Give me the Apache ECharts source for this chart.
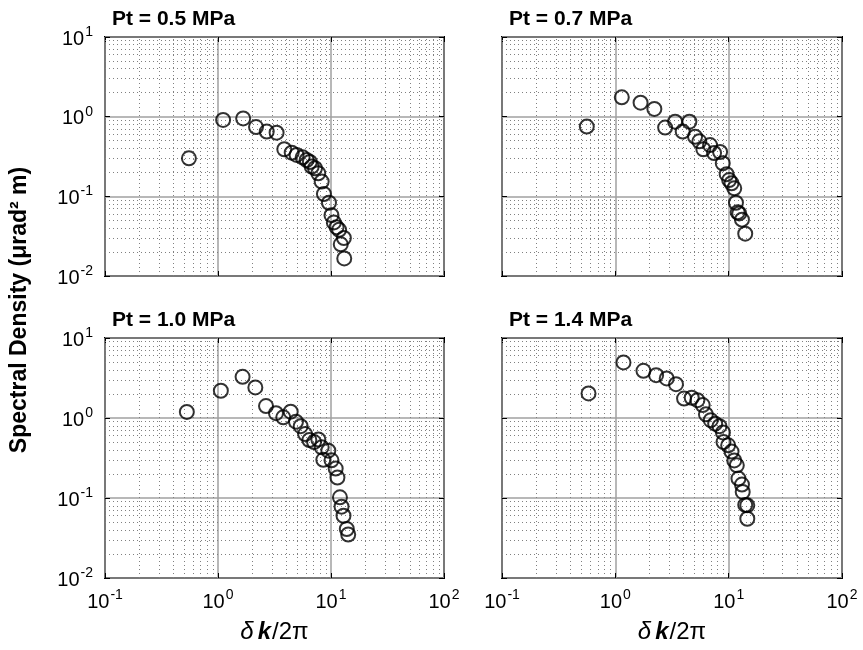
<!DOCTYPE html>
<html>
<head>
<meta charset="utf-8">
<script src="https://cdn.jsdelivr.net/npm/echarts@6/dist/echarts.min.js"></script>
<style>
  html, body { margin: 0; padding: 0; background: #fff; }
  #chart { width: 863px; height: 650px; }
</style>
</head>
<body>
<div id="chart"></div>
<script>
// Panel titles (transmission pressure)
const panelTitles = ['Pt = 0.5 MPa', 'Pt = 0.7 MPa', 'Pt = 1.0 MPa', 'Pt = 1.4 MPa'];

// Decade exponents shown as tick labels
const xTickExponents = [-1, 0, 1, 2];
const yTickExponents = [-2, -1, 0, 1];

// Normalised wavenumber (δk/2π) and spectral density (µrad² m), Pt = 0.5 MPa
const k05 = [0.553, 1.11, 1.67, 2.17, 2.70, 3.30, 3.86, 4.49, 4.96, 5.61, 6.09, 6.5, 6.75, 7.22, 7.72, 8.27, 8.66, 9.6, 10.1, 10.6, 11.2, 11.8, 13.0, 12.2, 13.1];
const s05 = [0.30, 0.91, 0.95, 0.74, 0.65, 0.63, 0.39, 0.353, 0.331, 0.309, 0.286, 0.27, 0.236, 0.225, 0.195, 0.153, 0.107, 0.083, 0.058, 0.047, 0.041, 0.038, 0.030, 0.025, 0.0166];

// Pt = 0.7 MPa
const k07 = [0.56, 1.14, 1.67, 2.21, 2.75, 3.37, 4.5, 3.93, 5.05, 5.51, 5.98, 6.85, 7.43, 8.4, 8.87, 9.6, 10.1, 10.6, 11.2, 11.6, 12.0, 12.4, 13.1, 14.0];
const s07 = [0.75, 1.75, 1.50, 1.25, 0.73, 0.865, 0.865, 0.65, 0.56, 0.49, 0.39, 0.44, 0.35, 0.36, 0.26, 0.19, 0.16, 0.146, 0.126, 0.083, 0.063, 0.061, 0.051, 0.034];

// Pt = 1.0 MPa
const k10 = [0.53, 1.06, 1.65, 2.14, 2.66, 3.26, 3.78, 4.40, 4.9, 5.39, 5.9, 6.43, 7.08, 7.73, 8.27, 8.55, 9.47, 10.1, 11.0, 11.4, 12.0, 12.4, 12.9, 13.8, 14.2];
const s10 = [1.19, 2.19, 3.27, 2.41, 1.41, 1.15, 1.02, 1.2, 0.90, 0.79, 0.63, 0.53, 0.50, 0.54, 0.43, 0.30, 0.39, 0.296, 0.233, 0.18, 0.102, 0.078, 0.06, 0.041, 0.035];

// Pt = 1.4 MPa
const k14 = [0.58, 1.18, 1.77, 2.29, 2.84, 3.43, 4.04, 4.72, 5.3, 5.9, 6.3, 6.95, 7.6, 8.3, 8.9, 9.0, 9.9, 10.6, 11.2, 11.8, 12.2, 13.1, 13.3, 14.0, 14.6, 14.6];
const s14 = [2.03, 4.95, 3.89, 3.43, 3.12, 2.65, 1.75, 1.79, 1.67, 1.45, 1.11, 0.94, 0.85, 0.79, 0.66, 0.5, 0.455, 0.38, 0.295, 0.256, 0.175, 0.147, 0.119, 0.082, 0.081, 0.055];

const panelK = [k05, k07, k10, k14];
const panelS = [s05, s07, s10, s14];

const FONT = 'Liberation Sans, Arial, sans-serif';
const X_MIN = 0.1, X_MAX = 100, Y_MIN = 0.01, Y_MAX = 10;

// Panel rectangles in pixels
const grids = [
  { left: 105, top: 37, width: 339, height: 239 },
  { left: 502, top: 37, width: 340, height: 239 },
  { left: 105, top: 338, width: 339, height: 240 },
  { left: 502, top: 338, width: 340, height: 240 }
];

// Minor grid positions: 2..9 within each visible decade
function minorValues(lo, hi) {
  const out = [];
  for (let e = lo; e < hi; e++) {
    for (let m = 2; m <= 9; m++) out.push(m * Math.pow(10, e));
  }
  return out;
}
const xMinor = minorValues(-1, 2);
const yMinor = minorValues(-2, 1);

function powLabel(v) {
  const e = Math.round(Math.log10(v));
  return '{b|10}{s|' + e + '}';
}
const powRich = {
  b: { fontFamily: FONT, fontSize: 20, color: '#000', lineHeight: 24, verticalAlign: 'bottom' },
  s: { fontFamily: FONT, fontSize: 14, color: '#000', lineHeight: 24, verticalAlign: 'top', padding: [0, 0, 0, 1] }
};

const majorSplit = { show: true, lineStyle: { color: '#a0a0a0', width: 1.5, type: 'solid' } };

const xAxes = [], yAxes = [], series = [], titles = [];

grids.forEach((g, i) => {
  const showX = i >= 2;
  const showY = i % 2 === 0;
  xAxes.push({
    type: 'log', logBase: 10, min: X_MIN, max: X_MAX, gridIndex: i, position: 'bottom',
    axisLine: { show: false },
    axisTick: { show: true, inside: true, length: 5, lineStyle: { color: '#000', width: 1 } },
    axisLabel: { show: showX, margin: 10, formatter: powLabel, rich: powRich },
    splitLine: majorSplit,
    name: showX ? '{d|δ}{k|k}{r|/2π}' : '',
    nameLocation: 'middle', nameGap: 42,
    nameTextStyle: {
      rich: {
        d: { fontFamily: FONT, fontSize: 24, fontStyle: 'italic', color: '#000' },
        k: { fontFamily: FONT, fontSize: 24, fontStyle: 'italic', fontWeight: 'bold', color: '#000', padding: [0, 1, 0, 4] },
        r: { fontFamily: FONT, fontSize: 24, color: '#000' }
      }
    }
  });
  xAxes.push({
    type: 'log', logBase: 10, min: X_MIN, max: X_MAX, gridIndex: i, position: 'top',
    axisLine: { show: false },
    axisTick: { show: true, inside: true, length: 5, lineStyle: { color: '#000', width: 1 } },
    axisLabel: { show: false }, splitLine: { show: false }
  });
  yAxes.push({
    type: 'log', logBase: 10, min: Y_MIN, max: Y_MAX, gridIndex: i, position: 'left',
    axisLine: { show: false },
    axisTick: { show: true, inside: true, length: 5, lineStyle: { color: '#000', width: 1 } },
    axisLabel: { show: showY, margin: 12, formatter: powLabel, rich: powRich },
    splitLine: majorSplit
  });
  yAxes.push({
    type: 'log', logBase: 10, min: Y_MIN, max: Y_MAX, gridIndex: i, position: 'right',
    axisLine: { show: false },
    axisTick: { show: true, inside: true, length: 5, lineStyle: { color: '#000', width: 1 } },
    axisLabel: { show: false }, splitLine: { show: false }
  });

  const pts = panelK[i].map((k, j) => [k, panelS[i][j]]);
  series.push({
    type: 'scatter',
    xAxisIndex: i * 2, yAxisIndex: i * 2,
    data: pts,
    symbol: 'circle', symbolSize: 14,
    itemStyle: { color: 'rgba(255,255,255,0)', borderColor: '#000', borderWidth: 2 },
    z: 5,
    markLine: {
      silent: true, symbol: 'none', animation: false,
      label: { show: false },
      lineStyle: { color: '#808080', width: 1, type: [1, 3] },
      data: xMinor.map(v => ({ xAxis: v })).concat(yMinor.map(v => ({ yAxis: v })))
    }
  });

  titles.push({
    text: panelTitles[i],
    left: g.left + 2, top: g.top - 33,
    textStyle: { fontFamily: FONT, fontSize: 21, fontWeight: 'bold', color: '#000' }
  });
});

const chart = echarts.init(document.getElementById('chart'), null, { renderer: 'canvas' });
chart.setOption({
  backgroundColor: '#fff',
  animation: false,
  title: titles,
  grid: grids.map(g => Object.assign({ show: true, borderColor: '#000', borderWidth: 2, backgroundColor: 'transparent', containLabel: false }, g)),
  xAxis: xAxes,
  yAxis: yAxes,
  series: series,
  graphic: [{
    type: 'text',
    x: 20, y: 310,
    rotation: Math.PI / 2,
    style: {
      text: 'Spectral Density (μrad² m)',
      fontFamily: FONT, fontSize: 23, fontWeight: 'bold', fill: '#000',
      align: 'center', verticalAlign: 'middle'
    }
  }]
});
</script>
</body>
</html>
